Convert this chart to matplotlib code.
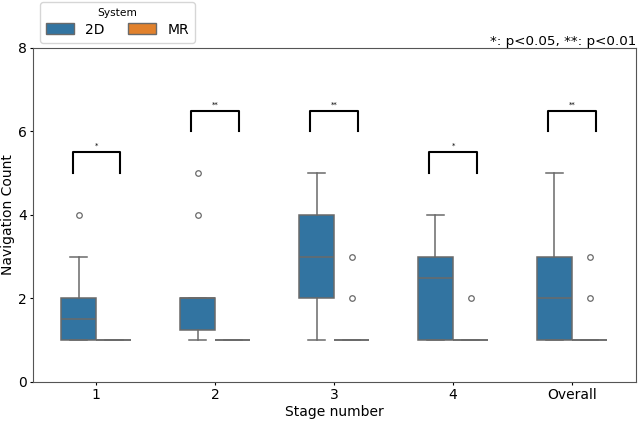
import numpy as np
import matplotlib
matplotlib.use("Agg")
import matplotlib.pyplot as plt
from matplotlib.patches import Patch

# categories
stages = ["1", "2", "3", "4", "Overall"]

# 2D system box stats
q1_2d = [1, 1.25, 2, 1, 1]
med_2d = [1.5, 2, 3, 2.5, 2]
q3_2d = [2, 2, 4, 3, 3]
lo_2d = [1, 1, 1, 1, 1]
hi_2d = [3, 2, 5, 4, 5]
fl_2d = [[4], [4, 5], [], [], []]

# MR system box stats
q1_mr = [1, 1, 1, 1, 1]
med_mr = [1, 1, 1, 1, 1]
q3_mr = [1, 1, 1, 1, 1]
lo_mr = [1, 1, 1, 1, 1]
hi_mr = [1, 1, 1, 1, 1]
fl_mr = [[], [], [2, 3], [2], [2, 3]]

# significance: bracket base height and label
sig_y = [5, 6, 6, 5, 6]
sig_lab = ["*", "**", "**", "*", "**"]

blue = "#3274a1"
orange = "#e1812c"
gray = "#6a6a6a"


def make_stats(q1, med, q3, lo, hi, fl):
    out = []
    for i in range(len(q1)):
        out.append(dict(q1=q1[i], med=med[i], q3=q3[i], whislo=lo[i],
                        whishi=hi[i], fliers=fl[i]))
    return out


fig = plt.figure(figsize=(6.4, 4.21), dpi=100)
ax = fig.add_axes([0.052, 0.093, 0.942, 0.793])

x = np.arange(len(stages))
w = 0.295
for stats, off, col in [(make_stats(q1_2d, med_2d, q3_2d, lo_2d, hi_2d, fl_2d), -0.148, blue),
                        (make_stats(q1_mr, med_mr, q3_mr, lo_mr, hi_mr, fl_mr), 0.148, orange)]:
    ax.bxp(stats, positions=x + off, widths=w, patch_artist=True,
           capwidths=w / 2,
           boxprops=dict(facecolor=col, edgecolor=gray, linewidth=1.1),
           medianprops=dict(color=gray, linewidth=1.1),
           whiskerprops=dict(color=gray, linewidth=1.1),
           capprops=dict(color=gray, linewidth=1.1),
           flierprops=dict(marker="o", markersize=4, markerfacecolor="none",
                           markeredgecolor=gray, markeredgewidth=0.9),
           manage_ticks=False)

# significance brackets
for i in range(len(stages)):
    y0 = sig_y[i]
    ax.plot([i - 0.2, i - 0.2, i + 0.2, i + 0.2], [y0, y0 + 0.5, y0 + 0.5, y0],
            color="black", lw=1.5)
    ax.text(i, y0 + 0.58, sig_lab[i], ha="center", va="bottom", fontsize=5)

ax.set_xlim(-0.53, 4.54)
ax.set_ylim(0, 8)
ax.set_xticks(x)
ax.set_xticklabels(stages)
ax.set_yticks([0, 2, 4, 6, 8])
ax.tick_params(labelsize=10, length=2.5, pad=2)
for s in ax.spines.values():
    s.set_color("#555555")
ax.set_xlabel("Stage number", fontsize=10, labelpad=2)
ax.set_ylabel("Navigation Count", fontsize=10, labelpad=2)

ax.text(1.0, 1.0, "*: p<0.05, **: p<0.01", transform=ax.transAxes,
        ha="right", va="bottom", fontsize=9.7)

handles = [Patch(facecolor=blue, edgecolor=gray, label="2D"),
           Patch(facecolor=orange, edgecolor=gray, label="MR")]
fig.legend(handles=handles, title="System", ncol=2, loc="upper left",
           bbox_to_anchor=(0.0625, 0.995), fontsize=10, title_fontsize=7.7,
           handlelength=2.0, handleheight=0.8, columnspacing=1.7,
           borderaxespad=0.0, borderpad=0.45, labelspacing=0.3)

fig.savefig("out.png", dpi=100)
